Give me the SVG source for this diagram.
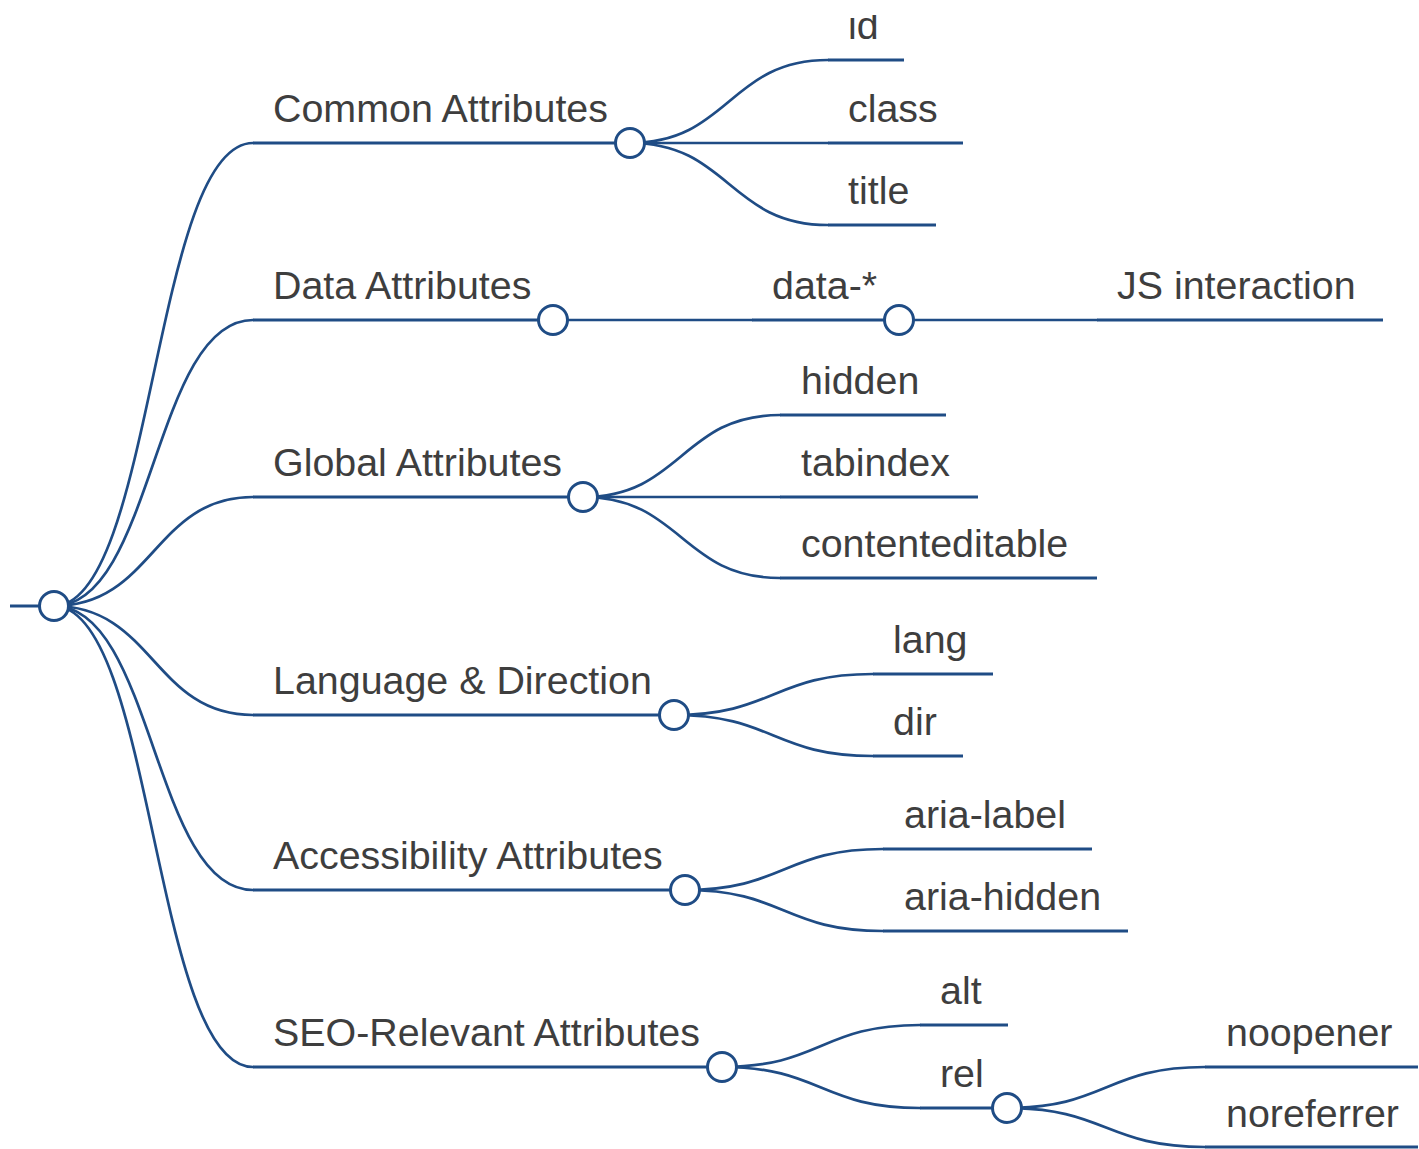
<svg xmlns="http://www.w3.org/2000/svg" width="1419" height="1149" viewBox="0 0 1419 1149">
<style>
.lk{fill:none;stroke:#1f4c85;stroke-width:2.7;stroke-linecap:round}
.ln{fill:none;stroke:#1f4c85;stroke-width:2.9}
.ci{fill:#fff;stroke:#1f4c85;stroke-width:3}
.tx{font-family:"Liberation Sans",Arial,sans-serif;font-size:39.4px;fill:#3e3e3e}
</style>
<defs>
<clipPath id="topclip"><rect x="0" y="15" width="1419" height="1134"/></clipPath>
</defs>
<rect width="1419" height="1149" fill="#fff"/>
<g id="connectors">
<path class="lk" d="M54,606 C153.5,606 153.5,143 253,143"/>
<path class="lk" d="M54,606 C153.5,606 153.5,320 253,320"/>
<path class="lk" d="M54,606 C153.5,606 153.5,497 253,497"/>
<path class="lk" d="M54,606 C153.5,606 153.5,715 253,715"/>
<path class="lk" d="M54,606 C153.5,606 153.5,890 253,890"/>
<path class="lk" d="M54,606 C153.5,606 153.5,1067 253,1067"/>
<path class="lk" d="M630,143 C729,143 729,60 828,60"/>
<path class="lk" d="M630,143 L828,143"/>
<path class="lk" d="M630,143 C729,143 729,225 828,225"/>
<path class="lk" d="M553,320 L752,320"/>
<path class="lk" d="M899,320 L1097,320"/>
<path class="lk" d="M583,497 C681.5,497 681.5,415 780,415"/>
<path class="lk" d="M583,497 L780,497"/>
<path class="lk" d="M583,497 C681.5,497 681.5,578 780,578"/>
<path class="lk" d="M674,715 C773.5,715 773.5,674 873,674"/>
<path class="lk" d="M674,715 C773.5,715 773.5,756 873,756"/>
<path class="lk" d="M685,890 C784,890 784,849 883,849"/>
<path class="lk" d="M685,890 C784,890 784,931 883,931"/>
<path class="lk" d="M722,1067 C821,1067 821,1025 920,1025"/>
<path class="lk" d="M722,1067 C821,1067 821,1108 920,1108"/>
<path class="lk" d="M1007,1108 C1106,1108 1106,1067 1205,1067"/>
<path class="lk" d="M1007,1108 C1106,1108 1106,1147 1205,1147"/>
</g>
<g id="root"><path class="ln" d="M10,606 H54"/><circle class="ci" cx="54" cy="606" r="14.5"/></g>
<g id="common"><path class="ln" d="M253,143 H630"/><circle class="ci" cx="630" cy="143" r="14.5"/><text class="tx" x="273" y="122">Common Attributes</text></g>
<g id="data"><path class="ln" d="M253,320 H553"/><circle class="ci" cx="553" cy="320" r="14.5"/><text class="tx" x="273" y="299">Data Attributes</text></g>
<g id="global"><path class="ln" d="M253,497 H583"/><circle class="ci" cx="583" cy="497" r="14.5"/><text class="tx" x="273" y="476">Global Attributes</text></g>
<g id="language"><path class="ln" d="M253,715 H674"/><circle class="ci" cx="674" cy="715" r="14.5"/><text class="tx" x="273" y="694">Language &amp; Direction</text></g>
<g id="accessibility"><path class="ln" d="M253,890 H685"/><circle class="ci" cx="685" cy="890" r="14.5"/><text class="tx" x="273" y="869">Accessibility Attributes</text></g>
<g id="seo"><path class="ln" d="M253,1067 H722"/><circle class="ci" cx="722" cy="1067" r="14.5"/><text class="tx" x="273" y="1046">SEO-Relevant Attributes</text></g>
<g id="id"><path class="ln" d="M828,60 H904"/><text class="tx" x="848" y="39" clip-path="url(#topclip)">id</text></g>
<g id="class"><path class="ln" d="M828,143 H963"/><text class="tx" x="848" y="122">class</text></g>
<g id="title"><path class="ln" d="M828,225 H936"/><text class="tx" x="848" y="204">title</text></g>
<g id="data-star"><path class="ln" d="M752,320 H899"/><circle class="ci" cx="899" cy="320" r="14.5"/><text class="tx" x="772" y="299">data-*</text></g>
<g id="js"><path class="ln" d="M1097,320 H1383"/><text class="tx" x="1117" y="299">JS interaction</text></g>
<g id="hidden"><path class="ln" d="M780,415 H946"/><text class="tx" x="801" y="394">hidden</text></g>
<g id="tabindex"><path class="ln" d="M780,497 H978"/><text class="tx" x="801" y="476">tabindex</text></g>
<g id="contenteditable"><path class="ln" d="M780,578 H1097"/><text class="tx" x="801" y="557">contenteditable</text></g>
<g id="lang"><path class="ln" d="M873,674 H993"/><text class="tx" x="893" y="653">lang</text></g>
<g id="dir"><path class="ln" d="M873,756 H963"/><text class="tx" x="893" y="735">dir</text></g>
<g id="aria-label"><path class="ln" d="M883,849 H1092"/><text class="tx" x="904" y="828">aria-label</text></g>
<g id="aria-hidden"><path class="ln" d="M883,931 H1128"/><text class="tx" x="904" y="910">aria-hidden</text></g>
<g id="alt"><path class="ln" d="M920,1025 H1008"/><text class="tx" x="940" y="1004">alt</text></g>
<g id="rel"><path class="ln" d="M920,1108 H1007"/><circle class="ci" cx="1007" cy="1108" r="14.5"/><text class="tx" x="940" y="1087">rel</text></g>
<g id="noopener"><path class="ln" d="M1205,1067 H1418"/><text class="tx" x="1226" y="1046">noopener</text></g>
<g id="noreferrer"><path class="ln" d="M1205,1147 H1418"/><text class="tx" x="1226" y="1127">noreferrer</text></g>
</svg>
